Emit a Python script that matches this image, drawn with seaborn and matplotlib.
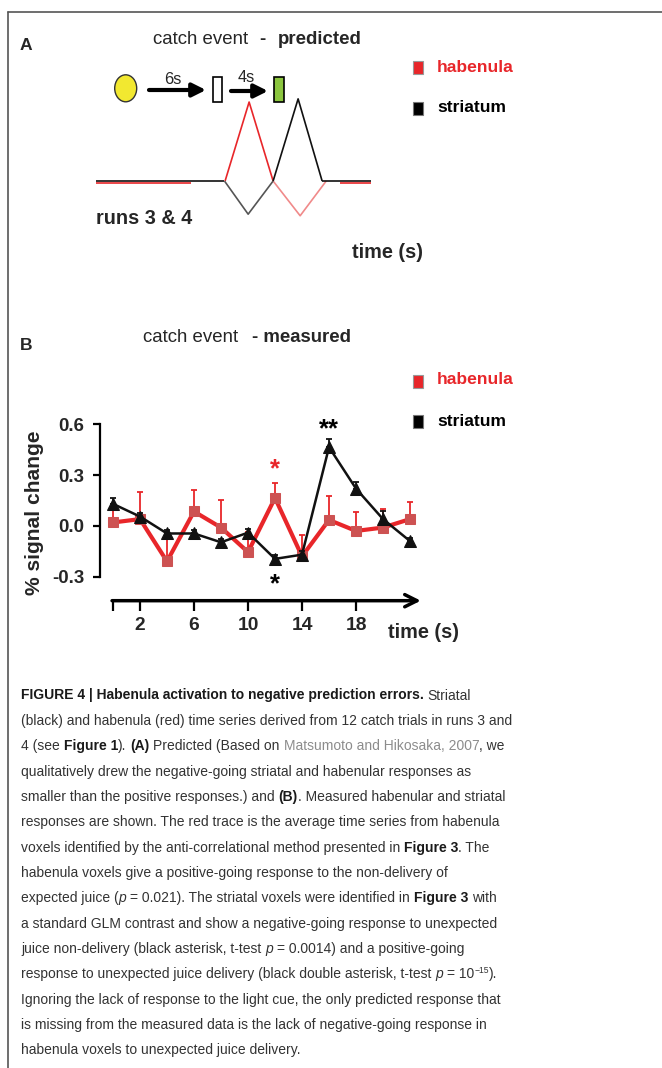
import numpy as np
import matplotlib
matplotlib.use("Agg")
import matplotlib.pyplot as plt
from matplotlib import font_manager
from matplotlib.patches import Rectangle, Ellipse
import seaborn as sns

# ---- panel B data: measured time series (% signal change) ----
time_s = [0, 2, 4, 6, 8, 10, 12, 14, 16, 18, 20, 22]
habenula = [0.02, 0.04, -0.21, 0.085, -0.01, -0.155, 0.165, -0.18, 0.035, -0.03, -0.01, 0.04]
habenula_err = [0.08, 0.16, 0.17, 0.125, 0.16, 0.12, 0.09, 0.125, 0.14, 0.11, 0.11, 0.10]
striatum = [0.13, 0.055, -0.045, -0.045, -0.097, -0.04, -0.195, -0.17, 0.465, 0.22, 0.04, -0.09]
striatum_err = [0.035, 0.02, 0.02, 0.02, 0.02, 0.02, 0.02, 0.02, 0.05, 0.04, 0.05, 0.02]

x_ticks = [0, 2, 6, 10, 14, 18]
x_tick_labels = ["", "2", "6", "10", "14", "18"]
y_ticks = [-0.3, 0.0, 0.3, 0.6]
y_tick_labels = ["-0.3", "0.0", "0.3", "0.6"]

# ---- panel A data: predicted (schematic) responses ----
str_flat1_t, str_flat1_y = [0, 10.7], [0, 0]
str_dip_t, str_dip_y = [10.7, 12.67, 14.75], [0, -0.42, 0]
str_peak_t, str_peak_y = [14.75, 16.83, 18.83], [0, 1.04, 0]
str_flat2_t, str_flat2_y = [18.83, 22.9], [0, 0]
hab_flat1_t, hab_flat1_y = [0, 7.9], [-0.03, -0.03]
hab_peak_t, hab_peak_y = [10.75, 12.75, 14.75], [0, 1.0, 0]
hab_dip_t, hab_dip_y = [14.75, 17.0, 19.17], [0, -0.44, 0]
hab_flat2_t, hab_flat2_y = [20.33, 22.9], [-0.03, -0.03]

RED = "#e8262a"
RED_MK = "#cd5252"

sns.set_style("ticks")
avail = {f.name for f in font_manager.fontManager.ttflist}
narrow = next((n for n in ["Liberation Sans Narrow", "Arial Narrow", "Nimbus Sans Narrow"] if n in avail), None)
if narrow:
    plt.rcParams["font.family"] = [narrow, "Liberation Sans", "DejaVu Sans"]
    K = 1.0
else:
    plt.rcParams["font.family"] = ["Liberation Sans", "DejaVu Sans"]
    K = 0.84

W, H = 662, 1068
fig = plt.figure(figsize=(W / 100, H / 100), dpi=100)


def px_axes(x0, y0, x1, y1):
    return fig.add_axes([x0 / W, 1 - y1 / H, (x1 - x0) / W, (y1 - y0) / H])


# background canvas in pixel units
bg = fig.add_axes([0, 0, 1, 1])
bg.set_xlim(0, W)
bg.set_ylim(H, 0)
bg.axis("off")

# frame
bg.plot([8, 8], [12, H], color="#555555", lw=1.2)
bg.plot([8, W], [12, 12], color="#555555", lw=1.2)

# ================= Panel A =================
bg.text(20, 45, "A", fontsize=15 * K, fontweight="bold", va="center")
bg.text(153, 40, "catch event", fontsize=16 * K, va="center")
bg.text(262, 40, "-", fontsize=16 * K, fontweight="bold", va="center", ha="center")
bg.text(278, 40, "predicted", fontsize=16 * K, fontweight="bold", va="center")

# cue schematic
bg.add_patch(Ellipse((125.7, 88.3), 22, 27, fc="#f2e830", ec="#333333", lw=1))
bg.annotate("", xy=(206, 90), xytext=(149, 90),
            arrowprops=dict(arrowstyle="-|>", lw=3, color="k", mutation_scale=20,
                            shrinkA=0, shrinkB=0))
bg.text(173, 79, "6s", fontsize=14 * K, ha="center", va="center")
bg.add_patch(Rectangle((213, 77), 9, 25, fc="white", ec="black", lw=1.2))
bg.annotate("", xy=(268, 91), xytext=(231, 91),
            arrowprops=dict(arrowstyle="-|>", lw=3, color="k", mutation_scale=20,
                            shrinkA=0, shrinkB=0))
bg.text(246, 78, "4s", fontsize=14 * K, ha="center", va="center")
bg.add_patch(Rectangle((274, 77), 10, 25, fc="#8cc63f", ec="black", lw=1.2))

axA = px_axes(96, 95, 371, 222)
axA.set_xlim(0, 22.9)
axA.set_ylim(-0.519, 1.089)
axA.axis("off")
for t, y, c in [(hab_flat1_t, hab_flat1_y, RED), (hab_peak_t, hab_peak_y, RED),
                (hab_dip_t, hab_dip_y, "#f08a8a"), (hab_flat2_t, hab_flat2_y, RED),
                (str_flat1_t, str_flat1_y, "#111111"), (str_dip_t, str_dip_y, "#555555"),
                (str_peak_t, str_peak_y, "#111111"), (str_flat2_t, str_flat2_y, "#111111")]:
    axA.plot(t, y, color=c, lw=1.2, solid_capstyle="butt")

bg.text(96, 218, "runs 3 & 4", fontsize=17 * K, fontweight="bold", va="center")
bg.text(352, 253, "time (s)", fontsize=17 * K, fontweight="bold", va="center")

# legend A
bg.add_patch(Rectangle((413, 61), 10, 13, fc=RED, ec="#999999", lw=0.8))
bg.text(437, 67, "habenula", color=RED, fontsize=15 * K, fontweight="bold", va="center")
bg.add_patch(Rectangle((413, 102), 10, 13, fc="black", ec="#777777", lw=0.8))
bg.text(437, 107, "striatum", color="black", fontsize=15 * K, fontweight="bold", va="center")

# ================= Panel B =================
bg.text(20, 345, "B", fontsize=15 * K, fontweight="bold", va="center")
bg.text(143, 338, "catch event", fontsize=16 * K, va="center")
bg.text(252, 338, "- measured", fontsize=16 * K, fontweight="bold", va="center")

bg.add_patch(Rectangle((413, 375), 10, 13, fc=RED, ec="#999999", lw=0.8))
bg.text(437, 380, "habenula", color=RED, fontsize=15 * K, fontweight="bold", va="center")
bg.add_patch(Rectangle((413, 415), 10, 13, fc="black", ec="#777777", lw=0.8))
bg.text(437, 421, "striatum", color="black", fontsize=15 * K, fontweight="bold", va="center")

axB = px_axes(100, 424.3, 425, 610)
axB.set_xlim(-0.963, 23.11)
axB.set_ylim(-0.497, 0.6)
axB.patch.set_alpha(0)

axB.errorbar(time_s, habenula, yerr=[np.zeros(len(habenula_err)), habenula_err], fmt="none",
             ecolor=RED, elinewidth=1.3, capsize=2.5, capthick=1.3, zorder=2)
sns.lineplot(x=time_s, y=habenula, ax=axB, color=RED, lw=3, marker="s", markersize=7.5,
             markerfacecolor=RED_MK, markeredgecolor=RED_MK, estimator=None, zorder=3)
axB.errorbar(time_s, striatum, yerr=[np.zeros(len(striatum_err)), striatum_err], fmt="none",
             ecolor="#111111", elinewidth=1.3, capsize=2.5, capthick=1.3, zorder=4)
sns.lineplot(x=time_s, y=striatum, ax=axB, color="#111111", lw=1.8, marker="^", markersize=8,
             markerfacecolor="#111111", markeredgecolor="#111111", estimator=None, zorder=5)

for s in ["top", "right"]:
    axB.spines[s].set_visible(False)
axB.spines["left"].set_bounds(-0.3, 0.6)
axB.spines["left"].set_linewidth(1.6)
axB.spines["left"].set_color("black")
axB.spines["bottom"].set_position(("data", -0.442))
axB.spines["bottom"].set_visible(False)

axB.set_yticks(y_ticks)
axB.set_yticklabels(y_tick_labels)
axB.set_xticks(x_ticks)
axB.set_xticklabels(x_tick_labels)
axB.tick_params(axis="y", length=5, width=1.6, pad=6.5, labelsize=16 * K, color="black")
axB.tick_params(axis="x", length=7, width=1.6, pad=5, labelsize=16.5 * K, color="black")
for lab in axB.get_xticklabels() + axB.get_yticklabels():
    lab.set_fontweight("bold")
axB.set_xlabel("")
axB.set_ylabel("")

axB.annotate("", xy=(22.8, -0.442), xytext=(-0.07, -0.442),
             arrowprops=dict(arrowstyle="->", lw=2.5, color="k", mutation_scale=22,
                             shrinkA=0, shrinkB=0), annotation_clip=False)

# significance marks
axB.text(12, 0.335, "*", color=RED, fontsize=22 * K, fontweight="bold", ha="center", va="center")
axB.text(12, -0.345, "*", color="black", fontsize=22 * K, fontweight="bold", ha="center", va="center")
axB.text(16, 0.57, "**", color="black", fontsize=22 * K, fontweight="bold", ha="center",
         va="center", clip_on=False)

bg.text(35, 513, "% signal change", rotation=90, fontsize=18 * K, fontweight="bold",
        ha="center", va="center")
bg.text(388, 632, "time (s)", fontsize=17 * K, fontweight="bold", va="center")

# ================= Caption =================
caption = [
    [("FIGURE 4 | Habenula activation to negative prediction errors.", "b"), (" Striatal", "r")],
    [("(black) and habenula (red) time series derived from 12 catch trials in runs 3 and", "r")],
    [("4 (see ", "r"), ("Figure 1", "b"), ("). ", "r"), ("(A)", "b"), (" Predicted (Based on ", "r"),
     ("Matsumoto and Hikosaka, 2007", "g"), (", we", "r")],
    [("qualitatively drew the negative-going striatal and habenular responses as", "r")],
    [("smaller than the positive responses.) and ", "r"), ("(B)", "b"),
     (". Measured habenular and striatal", "r")],
    [("responses are shown. The red trace is the average time series from habenula", "r")],
    [("voxels identified by the anti-correlational method presented in ", "r"), ("Figure 3", "b"),
     (". The", "r")],
    [("habenula voxels give a positive-going response to the non-delivery of", "r")],
    [("expected juice (", "r"), ("p", "i"), (" = 0.021). The striatal voxels were identified in ", "r"),
     ("Figure 3", "b"), (" with", "r")],
    [("a standard GLM contrast and show a negative-going response to unexpected", "r")],
    [("juice non-delivery (black asterisk, t-test ", "r"), ("p", "i"),
     (" = 0.0014) and a positive-going", "r")],
    [("response to unexpected juice delivery (black double asterisk, t-test ", "r"), ("p", "i"),
     (" = 10", "r"), ("\u221215", "s"), (").", "r")],
    [("Ignoring the lack of response to the light cue, the only predicted response that", "r")],
    [("is missing from the measured data is the lack of negative-going response in", "r")],
    [("habenula voxels to unexpected juice delivery.", "r")],
]

renderer = fig.canvas.get_renderer()


def text_w(s, **kw):
    t = bg.text(0, 0, s, **kw)
    w = t.get_window_extent(renderer).width
    t.remove()
    return w


def advance(s, **kw):
    return text_w("|" + s + "|", **kw) - text_w("||", **kw)


cap_fs = 10 * 489 / advance(caption[1][0][0], fontsize=10)
TXT = "#333333"


def style_kw(style):
    kw = dict(fontsize=cap_fs, color=TXT)
    if style == "b":
        kw.update(fontweight="bold", color="#1a1a1a")
    elif style == "g":
        kw["color"] = "#8c8c8c"
    elif style == "i":
        kw["fontstyle"] = "italic"
    elif style == "s":
        kw["fontsize"] = cap_fs * 0.62
    return kw


for i, segs in enumerate(caption):
    y = 699.5 + 25.35 * i
    x = 21.0
    for txt, style in segs:
        kw = style_kw(style)
        yy = y - 0.42 * cap_fs * 1.39 if style == "s" else y
        lead = len(txt) - len(txt.lstrip(" "))
        xs = x + (advance(" " * lead, **kw) if lead else 0)
        bg.text(xs, yy, txt.strip(" "), ha="left", va="baseline", **kw)
        x += advance(txt, **kw)

fig.savefig("out.png", dpi=100)
